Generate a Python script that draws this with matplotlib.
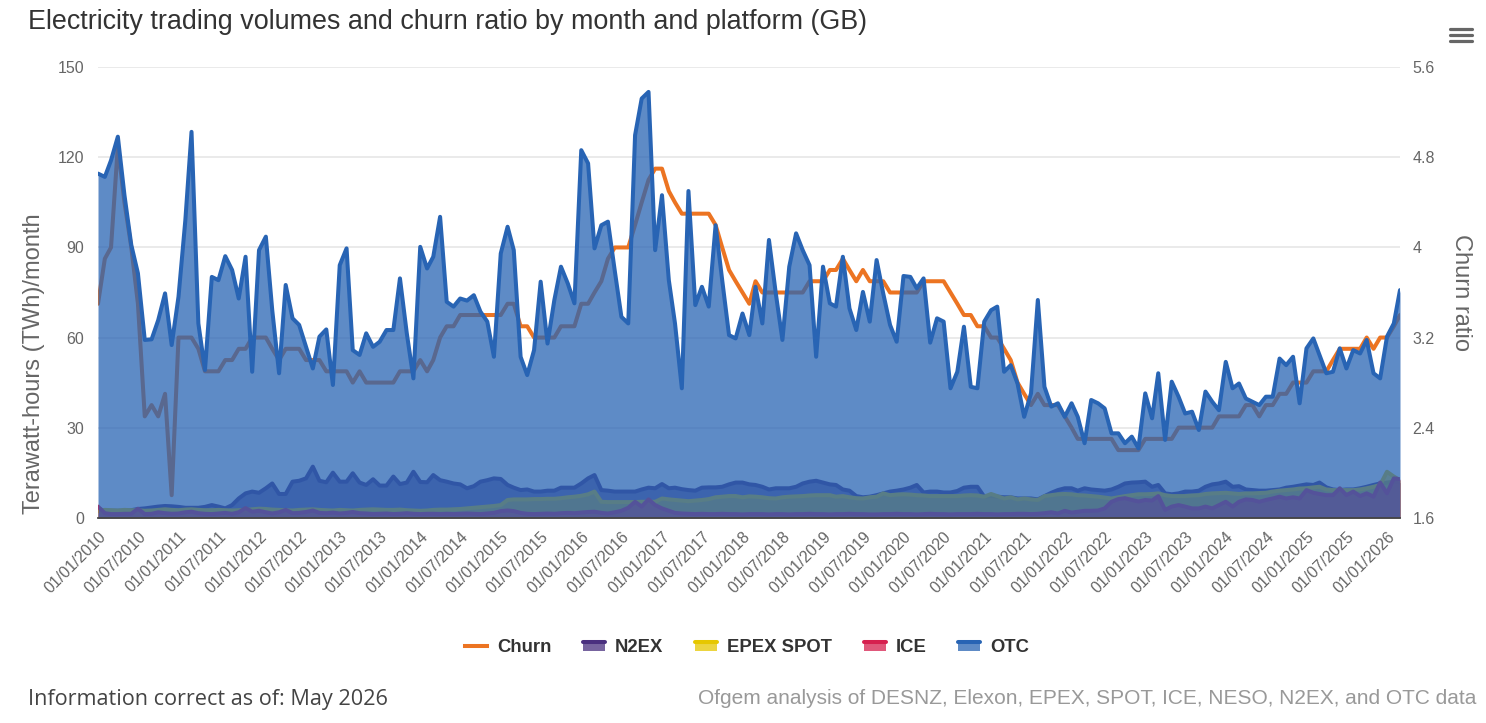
import pandas as pd
import matplotlib.pyplot as plt
from matplotlib.lines import Line2D
from matplotlib.patches import Patch, Rectangle
from matplotlib.legend_handler import HandlerBase

plt.rcParams['font.family'] = ['Liberation Sans', 'DejaVu Sans']

# Meses: jan/2010 a mar/2026
meses = pd.date_range('2010-01-01', periods=195, freq='MS')

# OTC (TWh/mês)
otc = [114.6, 113.5, 119.0, 126.9, 107.4, 90.8, 81.4, 59.2, 59.4, 65.8,
       74.7, 57.5, 73.6, 99.1, 128.5, 64.7, 49.2, 80.2, 79.1, 87.1,
       82.5, 73.0, 86.9, 48.6, 89.1, 93.6, 69.1, 48.1, 77.5, 66.4,
       64.2, 56.9, 49.7, 60.3, 62.7, 44.2, 84.1, 89.7, 55.8, 54.2,
       61.4, 56.9, 58.6, 62.5, 62.5, 79.7, 61.4, 46.4, 90.2, 83.0,
       86.9, 100.2, 71.9, 70.3, 73.0, 72.3, 74.1, 68.6, 65.3, 53.6,
       88.0, 96.9, 89.1, 53.6, 47.5, 55.8, 78.6, 58.0, 72.5, 83.6,
       78.0, 71.4, 122.4, 118.0, 89.7, 97.4, 98.6, 82.2, 66.9, 64.7,
       127.4, 139.6, 141.8, 89.1, 107.4, 79.1, 64.7, 43.1, 108.8, 70.8,
       76.9, 70.3, 97.4, 79.1, 60.8, 59.7, 68.0, 60.8, 76.9, 64.7,
       92.5, 74.7, 59.2, 83.6, 94.7, 89.1, 84.1, 53.6, 83.6, 71.4,
       70.3, 86.9, 69.7, 62.5, 75.2, 65.3, 85.8, 74.7, 64.2, 58.6,
       80.5, 80.2, 76.4, 79.7, 58.3, 66.4, 65.3, 43.1, 48.6, 63.6,
       43.6, 43.1, 65.3, 69.1, 70.3, 48.6, 50.8, 44.7, 33.6, 41.4,
       72.5, 43.6, 37.0, 38.1, 33.6, 38.1, 33.6, 24.8, 39.2, 38.1,
       36.4, 28.1, 28.1, 24.8, 27.0, 23.1, 41.4, 33.1, 48.1, 25.9,
       45.3, 40.3, 34.7, 35.3, 29.2, 42.0, 38.6, 35.8, 51.9, 43.1,
       44.7, 39.7, 38.6, 37.5, 40.3, 40.3, 53.0, 50.8, 53.6, 38.1,
       56.4, 59.7, 54.2, 48.1, 48.6, 56.4, 49.7, 55.8, 54.7, 59.2,
       48.1, 46.4, 60.3, 64.7, 75.8]

# Churn ratio (eixo direito)
churn = [3.5, 3.9, 4.0, 4.9, 4.4, 4.0, 3.5, 2.5, 2.6, 2.5,
         2.7, 1.8, 3.2, 3.2, 3.2, 3.1, 2.9, 2.9, 2.9, 3.0,
         3.0, 3.1, 3.1, 3.2, 3.2, 3.2, 3.1, 3.0, 3.1, 3.1,
         3.1, 3.0, 3.0, 3.0, 2.9, 2.9, 2.9, 2.9, 2.8, 2.9,
         2.8, 2.8, 2.8, 2.8, 2.8, 2.9, 2.9, 2.9, 3.0, 2.9,
         3.0, 3.2, 3.3, 3.3, 3.4, 3.4, 3.4, 3.4, 3.4, 3.4,
         3.4, 3.5, 3.5, 3.3, 3.3, 3.2, 3.2, 3.2, 3.2, 3.3,
         3.3, 3.3, 3.5, 3.5, 3.6, 3.7, 3.9, 4.0, 4.0, 4.0,
         4.2, 4.4, 4.6, 4.7, 4.7, 4.5, 4.4, 4.3, 4.3, 4.3,
         4.3, 4.3, 4.2, 4.0, 3.8, 3.7, 3.6, 3.5, 3.7, 3.6,
         3.6, 3.6, 3.6, 3.6, 3.6, 3.6, 3.7, 3.7, 3.7, 3.8,
         3.8, 3.9, 3.8, 3.7, 3.8, 3.7, 3.7, 3.7, 3.6, 3.6,
         3.6, 3.6, 3.6, 3.7, 3.7, 3.7, 3.7, 3.6, 3.5, 3.4,
         3.4, 3.3, 3.3, 3.2, 3.2, 3.1, 3.0, 2.8, 2.7, 2.6,
         2.7, 2.6, 2.6, 2.6, 2.5, 2.4, 2.3, 2.3, 2.3, 2.3,
         2.3, 2.3, 2.2, 2.2, 2.2, 2.2, 2.3, 2.3, 2.3, 2.3,
         2.3, 2.4, 2.4, 2.4, 2.4, 2.4, 2.4, 2.5, 2.5, 2.5,
         2.5, 2.6, 2.6, 2.5, 2.6, 2.6, 2.7, 2.7, 2.8, 2.8,
         2.8, 2.9, 2.9, 2.9, 3.0, 3.1, 3.1, 3.1, 3.1, 3.2,
         3.1, 3.2, 3.2, 3.3, 3.4]

# N2EX
n2ex = [3.0, 2.3, 2.3, 2.3, 2.3, 2.5, 2.9, 3.1, 3.4, 3.7,
        3.9, 3.8, 3.6, 3.3, 3.3, 3.3, 3.6, 4.2, 3.7, 3.1,
        4.2, 6.4, 8.1, 8.7, 8.3, 9.8, 11.4, 7.9, 7.9, 12.0,
        12.3, 13.1, 17.0, 12.3, 11.8, 15.0, 12.0, 12.0, 14.8, 11.7,
        10.9, 12.8, 10.7, 10.7, 13.7, 11.2, 11.7, 15.3, 11.9, 11.8,
        14.2, 12.5, 12.0, 11.4, 11.1, 9.8, 10.5, 12.0, 12.5, 13.1,
        12.9, 10.9, 10.0, 9.2, 9.4, 8.7, 8.7, 9.0, 9.0, 10.0,
        10.0, 10.0, 11.4, 13.1, 14.2, 9.2, 9.0, 8.7, 8.7, 8.7,
        8.7, 9.4, 10.0, 9.8, 11.2, 9.8, 10.0, 9.5, 9.2, 9.0,
        10.0, 10.1, 10.1, 10.3, 11.1, 11.7, 11.7, 11.1, 10.9, 10.3,
        9.4, 9.8, 9.8, 9.8, 10.3, 11.4, 12.0, 12.3, 11.7, 11.1,
        10.9, 9.4, 9.0, 7.2, 6.8, 7.0, 7.5, 8.1, 8.7, 9.0,
        9.4, 10.0, 10.9, 8.4, 8.7, 8.7, 8.4, 8.4, 8.9, 10.0,
        10.3, 10.3, 7.0, 7.2, 7.0, 6.8, 6.8, 6.4, 6.4, 6.4,
        6.1, 7.2, 8.3, 9.2, 9.8, 9.8, 9.0, 9.8, 9.4, 9.2,
        9.0, 9.4, 10.3, 11.4, 11.7, 11.8, 12.0, 10.3, 10.9, 8.1,
        7.8, 8.1, 8.7, 8.7, 9.0, 10.3, 11.1, 11.4, 12.0, 10.3,
        10.5, 9.4, 9.2, 9.0, 9.0, 9.2, 9.4, 10.0, 10.3, 10.7,
        11.1, 10.9, 11.7, 10.1, 9.4, 9.2, 9.4, 9.4, 9.8, 10.3,
        10.9, 11.4, 11.7, 12.0, 11.7]

# EPEX SPOT
epex = [2.2, 2.6, 2.5, 2.4, 2.6, 2.5, 2.5, 2.3, 2.4, 2.6,
        2.8, 2.6, 2.5, 2.7, 2.8, 2.6, 2.5, 2.5, 2.6, 2.5,
        2.4, 2.5, 2.6, 2.8, 3.0, 2.9, 2.7, 2.6, 2.5, 2.4,
        2.6, 2.7, 2.8, 2.6, 2.5, 2.4, 2.6, 2.5, 2.4, 2.6,
        2.7, 2.8, 2.7, 2.6, 2.6, 2.7, 2.5, 2.4, 2.3, 2.4,
        2.6, 2.7, 2.7, 2.8, 2.9, 3.1, 3.3, 3.5, 3.7, 3.9,
        4.2, 5.9, 6.1, 6.1, 6.1, 6.2, 6.2, 6.3, 6.3, 6.5,
        6.8, 7.0, 7.3, 7.8, 8.7, 5.3, 5.2, 5.2, 5.2, 5.2,
        5.2, 5.3, 5.3, 5.3, 6.4, 6.1, 5.9, 5.7, 5.5, 5.7,
        5.9, 6.2, 6.8, 7.0, 7.2, 7.2, 6.8, 7.1, 7.0, 6.8,
        6.5, 6.4, 6.8, 7.0, 7.1, 7.2, 7.4, 7.5, 7.5, 7.5,
        7.0, 7.2, 6.8, 6.5, 6.4, 6.8, 7.0, 8.1, 7.5, 7.7,
        7.8, 7.7, 7.5, 7.4, 7.2, 7.2, 7.2, 7.2, 7.2, 7.4,
        7.5, 7.4, 7.0, 7.9, 7.2, 6.4, 6.8, 6.1, 6.4, 6.1,
        5.9, 7.2, 7.5, 7.8, 7.9, 7.8, 7.5, 7.4, 7.2, 7.0,
        6.7, 6.4, 6.8, 7.2, 7.5, 7.8, 7.8, 7.9, 8.1, 7.5,
        7.2, 7.2, 7.2, 7.4, 7.5, 7.9, 8.1, 8.2, 8.3, 8.1,
        7.9, 8.1, 8.1, 8.2, 8.3, 8.7, 9.0, 9.2, 9.4, 9.7,
        9.8, 10.1, 10.3, 9.4, 9.2, 9.2, 9.2, 9.2, 9.4, 9.8,
        10.3, 10.9, 15.3, 13.7, 12.5]

# ICE
ice = [3.7, 1.5, 1.2, 1.2, 1.3, 1.3, 3.0, 1.2, 1.3, 1.8,
       1.5, 1.3, 1.4, 1.8, 2.0, 1.5, 1.3, 1.2, 1.4, 1.6,
       1.3, 1.8, 3.2, 2.0, 2.3, 1.8, 1.4, 1.8, 2.6, 1.5,
       1.6, 1.9, 2.4, 1.6, 1.5, 1.7, 1.4, 1.6, 1.9, 1.5,
       1.4, 1.2, 1.3, 1.4, 1.2, 1.3, 1.5, 1.3, 1.2, 1.3,
       1.3, 1.2, 1.3, 1.2, 1.3, 1.4, 1.3, 1.2, 1.4, 1.6,
       2.2, 2.4, 2.2, 1.6, 1.3, 1.2, 1.3, 1.4, 1.3, 1.5,
       1.6, 1.5, 1.7, 1.9, 2.0, 1.6, 1.4, 1.8, 2.3, 3.3,
       5.3, 3.7, 6.1, 4.2, 3.1, 2.3, 1.6, 1.4, 1.3, 1.2,
       1.3, 1.2, 1.2, 1.3, 1.2, 1.2, 1.1, 1.2, 1.2, 1.2,
       1.1, 1.2, 1.2, 1.1, 1.2, 1.2, 1.3, 1.2, 1.2, 1.1,
       1.2, 1.2, 1.3, 1.2, 1.2, 1.1, 1.1, 1.2, 1.2, 1.3,
       1.2, 1.2, 1.1, 1.2, 1.3, 1.2, 1.2, 1.1, 1.2, 1.2,
       1.2, 1.3, 1.2, 1.2, 1.1, 1.2, 1.2, 1.3, 1.3, 1.2,
       1.3, 1.5, 1.8, 1.4, 2.3, 1.7, 2.0, 2.3, 2.3, 2.4,
       3.1, 5.3, 6.2, 6.5, 5.9, 5.4, 5.9, 5.7, 7.2, 2.6,
       3.7, 4.2, 3.7, 3.1, 3.1, 3.7, 3.1, 4.2, 5.3, 3.7,
       5.3, 6.1, 5.9, 5.3, 5.9, 6.4, 7.0, 6.4, 6.8, 6.4,
       9.2, 8.3, 7.9, 7.5, 7.5, 9.8, 7.5, 8.7, 7.2, 8.1,
       7.0, 11.7, 8.1, 13.1, 12.8]

ticks = pd.date_range('2010-01-01', '2026-01-01', freq='6MS')
tick_labels = [d.strftime('%d/%m/%Y') for d in ticks]

# Cores
cor_churn = '#ec7422'
cores = {'N2EX': '#4a307f', 'EPEX SPOT': '#e6c700', 'ICE': '#d6204f', 'OTC': '#2864b4'}
series = {'N2EX': n2ex, 'EPEX SPOT': epex, 'ICE': ice, 'OTC': otc}


# Ícone de legenda: retângulo de área com a linha no topo
class IconeArea(HandlerBase):
    def create_artists(self, legend, orig_handle, xdescent, ydescent, width, height, fontsize, trans):
        cor = orig_handle.get_facecolor()[:3]
        topo = -ydescent + height * 0.78
        rect = Rectangle((-xdescent, -ydescent + height * 0.1), width, height * 0.68,
                         facecolor=cor, alpha=0.75, lw=0, transform=trans)
        linha = Line2D([-xdescent, -xdescent + width], [topo, topo], color=cor, lw=2.9,
                       solid_capstyle='round', transform=trans)
        return [rect, linha]


fig = plt.figure(figsize=(14.86, 7.23), dpi=100)
ax = fig.add_axes([98 / 1486, 1 - 517.7 / 723, 1302 / 1486, 450.4 / 723])
ax2 = ax.twinx()
ax.set_zorder(ax2.get_zorder() + 1)
ax.patch.set_visible(False)

# Linha de churn (fica atrás das áreas)
ax2.plot(meses, churn, color=cor_churn, lw=2.9, solid_joinstyle='round', solid_capstyle='round')

# Áreas por plataforma, cada série por cima da anterior
for k, (nome, vals) in enumerate(series.items()):
    ax.fill_between(meses, 0, vals, color=cores[nome], alpha=0.75, lw=0, zorder=2 + 2 * k)
    ax.plot(meses, vals, color=cores[nome], lw=2.9, solid_joinstyle='round',
            solid_capstyle='round', zorder=3 + 2 * k)

ax.set_xlim(meses[0], meses[-1])
ax.set_ylim(0, 150)
ax.set_yticks(range(0, 151, 30))
ax2.set_ylim(1.6, 5.6)
ax2.set_yticks([1.6, 2.4, 3.2, 4, 4.8, 5.6])
ax2.set_yticklabels(['1.6', '2.4', '3.2', '4', '4.8', '5.6'])
ax2.grid(axis='y', color='#e6e6e6', lw=1.2)

for a in (ax, ax2):
    for s in a.spines.values():
        s.set_visible(False)
ax.spines['bottom'].set_visible(True)
ax.spines['bottom'].set_color('#444444')
ax.spines['bottom'].set_linewidth(1.3)
ax.spines['bottom'].set_zorder(20)

ax.tick_params(axis='y', length=0, labelsize=11.5, labelcolor='#666666', pad=10)
ax2.tick_params(axis='y', length=0, labelsize=11.5, labelcolor='#666666', pad=9)
ax.set_xticks(ticks)
ax.set_xticklabels(tick_labels, rotation=45, ha='right', rotation_mode='anchor')
ax.tick_params(axis='x', length=0, labelsize=11.5, labelcolor='#666666', pad=8)

# Títulos
fig.text(28 / 1486, 1 - 22 / 723, 'Electricity trading volumes and churn ratio by month and platform (GB)',
         fontsize=19.4, color='#333333', va='center')
fig.text(34 / 1486, 1 - 364 / 723, 'Terawatt-hours (TWh)/month', rotation=90,
         fontsize=17, color='#666666', ha='center', va='center')
fig.text(1461 / 1486, 1 - 292 / 723, 'Churn ratio', rotation=-90,
         fontsize=17, color='#666666', ha='center', va='center')

# Legenda
handles = [Line2D([], [], color=cor_churn, lw=2.9)]
for nome in series:
    handles.append(Patch(facecolor=cores[nome]))
leg = ax.legend(handles, ['Churn'] + list(series.keys()), loc='center',
                bbox_to_anchor=(747 / 1486, 1 - 648 / 723), bbox_transform=fig.transFigure,
                ncol=5, frameon=False, handlelength=1.2, handletextpad=0.55, columnspacing=1.7,
                handler_map={Patch: IconeArea()},
                prop={'weight': 'bold', 'size': 13.3})
for t in leg.get_texts():
    t.set_color('#333333')

# Rodapé
fig.text(28 / 1486, 1 - 699 / 723, 'Information correct as of: May 2026', fontsize=15.6,
         color='#444444', va='center', family=['Open Sans', 'DejaVu Sans'])
fig.text(1476 / 1486, 1 - 698 / 723,
         'Ofgem analysis of DESNZ, Elexon, EPEX, SPOT, ICE, NESO, N2EX, and OTC data',
         fontsize=15, color='#999999', ha='right', va='center')

# Ícone do menu
for yy in (29, 35, 41):
    fig.add_artist(Line2D([1450 / 1486, 1472 / 1486], [1 - yy / 723, 1 - yy / 723],
                          transform=fig.transFigure, color='#666666', lw=2.3, solid_capstyle='round'))

fig.savefig('out.png', dpi=100)
